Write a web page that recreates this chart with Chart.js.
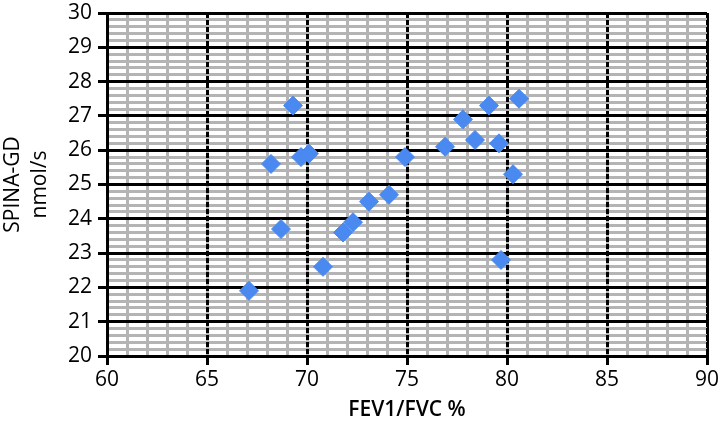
<!DOCTYPE html>
<html>
<head>
<meta charset="utf-8">
<script src="https://cdn.jsdelivr.net/npm/chart.js@4.4.1/dist/chart.umd.min.js"></script>
<style>
	html, body { margin: 0; padding: 0; background: #fff; }
	#wrap { width: 721px; height: 428px; }
</style>
</head>
<body>
<div id="wrap"><canvas id="chart" width="721" height="428"></canvas></div>
<script>
// values
const fevRatio = [67.1, 68.7, 68.2, 69.3, 69.7, 70.1, 70.8, 71.8, 72.3, 73.1, 74.1, 74.9, 76.9, 77.8, 78.4, 79.1, 79.6, 79.7, 80.3, 80.6];
const spinaGD  = [21.9, 23.7, 25.6, 27.3, 25.8, 25.9, 22.6, 23.6, 23.9, 24.5, 24.7, 25.8, 26.1, 26.9, 26.3, 27.3, 26.2, 22.8, 25.3, 27.5];

const xRange = [60, 90];
const yRange = [20, 30];
const xTitle = 'FEV1/FVC %';
const yTitle = ['SPINA-GD', 'nmol/s'];

const BLACK = '#000000';
const GREY = '#b4b4b4';
const BLUE = '#4a8af0';
const FONT = "'Open Sans', sans-serif";

var points = fevRatio.map((x, i) => ({x: x, y: spinaGD[i]}));

// no label overflow padding, the boxes below set the margins
var noPad = (s) => { s.paddingTop = 0; s.paddingBottom = 0; s.paddingLeft = 0; s.paddingRight = 0; };

var onPageLoaded = () => {
	const ctx = document.getElementById('chart');
	new Chart(ctx, {
		type: 'scatter',
		data: {
			datasets: [{
				data: points,
				pointStyle: 'rectRot',
				pointRadius: 9.5,
				pointBackgroundColor: BLUE,
				pointBorderColor: BLUE,
				pointBorderWidth: 1
			}]
		},
		options: {
			responsive: false,
			animation: false,
			devicePixelRatio: 1,
			layout: { padding: 0 },
			plugins: { legend: { display: false }, tooltip: { enabled: false } },
			scales: {
				// minor grids (grey)
				x2: {
					type: 'linear', position: 'top', min: xRange[0], max: xRange[1], z: -2,
					afterFit: (s) => { noPad(s); s.height = 13; },
					ticks: { display: false, stepSize: 1 },
					grid: {
						drawTicks: false, lineWidth: 3,
						color: (c) => (c.tick && c.tick.value === xRange[1]) ? BLACK : GREY
					},
					border: { display: false }
				},
				y2: {
					type: 'linear', position: 'right', min: yRange[0], max: yRange[1], z: -2,
					afterFit: (s) => { noPad(s); s.width = 14; },
					ticks: { display: false, stepSize: 0.2 },
					grid: { drawTicks: false, lineWidth: 3, color: GREY },
					border: { display: false }
				},
				// major axes
				x: {
					type: 'linear', position: 'bottom', min: xRange[0], max: xRange[1], z: -1,
					afterFit: (s) => { noPad(s); s.height = 72; },
					ticks: { stepSize: 5, color: BLACK, padding: 5, font: { family: FONT, size: 21, lineHeight: 1 } },
					grid: { color: BLACK, lineWidth: 3, tickLength: 9, tickColor: BLACK, tickWidth: 3 },
					border: { display: true, color: BLACK, width: 3, dash: [5, 2] },
					title: { display: true, text: xTitle, color: BLACK, padding: { top: 0, bottom: 5 }, font: { family: FONT, size: 21, weight: '600' } }
				},
				y: {
					type: 'linear', position: 'left', min: yRange[0], max: yRange[1], z: -1,
					afterFit: (s) => { noPad(s); s.width = 107; },
					ticks: { stepSize: 1, color: BLACK, padding: 6, font: { family: FONT, size: 21, lineHeight: 1 } },
					grid: { color: BLACK, lineWidth: 3, tickLength: 9, tickColor: BLACK, tickWidth: 3 },
					border: { display: true, color: BLACK, width: 3 },
					title: { display: true, text: yTitle, color: BLACK, padding: { top: 0, bottom: 0 }, font: { family: FONT, size: 21, lineHeight: 1.27 } }
				}
			}
		}
	});
}

onPageLoaded();
</script>
</body>
</html>
